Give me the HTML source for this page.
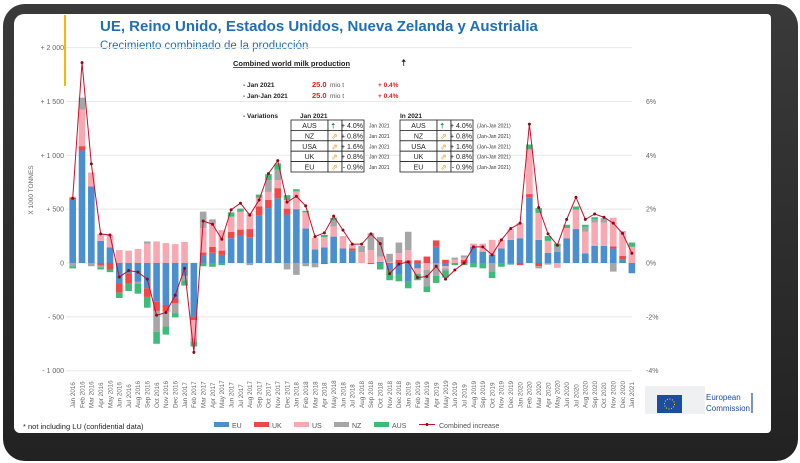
<!DOCTYPE html>
<html><head><meta charset="utf-8">
<style>
body{margin:0;width:800px;height:463px;overflow:hidden;background:#fff;font-family:"Liberation Sans",sans-serif;}
#frame{position:absolute;left:3px;top:4px;width:795px;height:457px;border-radius:22px;background:linear-gradient(#3a3a3a,#222);}
#slide{position:absolute;left:14px;top:14px;width:757px;height:419px;background:#fff;border-radius:10px 4px 4px 6px;}
</style></head><body>
<div id="frame"></div>
<div id="slide"></div>
<svg id="chart" width="800" height="463" style="position:absolute;left:0;top:0">
<line x1="65" y1="15" x2="65" y2="86" stroke="#f5b800" stroke-width="2"/>
<text x="100" y="31" font-size="15" font-weight="bold" fill="#1f6fb8">UE, Reino Unido, Estados Unidos, Nueva Zelanda y Austrialia</text>
<text x="100" y="49" font-size="11.5" fill="#1f6fb8">Crecimiento combinado de la producción</text>
<text transform="translate(33,190) rotate(-90)" font-size="6.5" fill="#666" text-anchor="middle">X 1000 TONNES</text>
<g id="grid"></g><g id="bars"></g><g id="line"></g><g id="xlabels"></g>
<g font-size="7" fill="#222">
<text x="233" y="66" font-weight="bold" text-decoration="underline" font-size="7.5">Combined world milk production</text>
<text x="401" y="66" font-size="10">🠅</text>
<text x="243" y="87" font-weight="bold" font-size="6.5">- Jan 2021</text>
<text x="243" y="98" font-weight="bold" font-size="6.5">- Jan-Jan 2021</text>
<text x="312" y="87" fill="#e02020" font-weight="bold" font-size="7.5">25.0</text><text x="330" y="87" font-size="6.5" fill="#555">mio t</text>
<text x="312" y="98" fill="#e02020" font-weight="bold" font-size="7.5">25.0</text><text x="330" y="98" font-size="6.5" fill="#555">mio t</text>
<text x="378" y="87" fill="#e02020" font-weight="bold" font-size="6.5">+ 0.4%</text>
<text x="378" y="98" fill="#e02020" font-weight="bold" font-size="6.5">+ 0.4%</text>
<text x="243" y="118" font-weight="bold" font-size="6.5">- Variations</text>
<text x="300" y="118" font-weight="bold" font-size="6.5">Jan 2021</text>
<text x="400" y="118" font-weight="bold" font-size="6.5">In 2021</text>
</g>
<g id="tables"></g>
<g id="legend"></g>
<text x="23" y="429" font-size="7.5" fill="#222">* not including LU (confidential data)</text>
<g>
<rect x="645" y="386" width="60" height="28" fill="#eef0f2"/>
<rect x="657" y="395" width="25" height="18" fill="#1c4ea0"/>
<circle cx="669.5" cy="404" r="5" fill="none" stroke="#ffd200" stroke-width="1" stroke-dasharray="1 1.6"/>
<text x="706" y="400" font-size="8" fill="#1c4ea0">European</text>
<text x="706" y="411" font-size="8" fill="#1c4ea0">Commission</text>
<line x1="752" y1="393" x2="752" y2="413" stroke="#1c4ea0" stroke-width="1.2"/>
</g>
</svg>
<script>
const months=["Jan","Feb","Mar","Apr","May","Jun","Jul","Aug","Sep","Oct","Nov","Dec"];
const categories=[];for(let y=2016;y<=2021;y++)for(const m of months){if(y===2021&&m!=="Jan")break;categories.push(m+" "+y);}
const euValues=[586,1045,710,205,145,-190,-95,-175,-235,-360,-390,-330,-120,-500,75,95,75,230,260,240,445,510,600,450,500,320,125,145,245,135,115,0,-10,10,-65,-110,-175,-50,0,150,-30,0,0,150,105,75,135,215,230,610,215,95,105,230,315,90,160,160,135,30,-95];
const ukValues=[20,40,0,-25,-60,-85,-95,0,-80,-85,-60,-45,0,-30,22,55,40,60,50,75,80,75,95,55,0,0,0,-10,0,0,20,0,0,0,0,30,25,25,60,60,30,0,30,0,0,0,0,0,-20,30,-30,0,0,0,0,0,0,0,20,35,0];
const usValues=[10,340,130,65,115,120,115,130,180,200,185,175,195,-170,225,215,190,140,165,150,80,75,75,80,165,150,110,95,95,115,40,100,120,50,10,60,95,-50,-65,0,-20,30,20,30,75,140,80,100,140,415,250,110,-45,95,180,200,215,215,265,220,150];
const nzValues=[-30,110,-30,-15,0,0,0,-20,20,-195,-140,-90,-40,-30,155,40,0,0,0,-20,0,110,95,-60,-110,-30,-40,0,55,0,0,60,155,180,75,100,170,0,-150,-120,-20,20,20,0,0,-80,0,0,0,0,-20,-15,45,0,0,45,30,40,-80,10,0];
const ausValues=[-20,0,0,-20,-25,-50,-70,-90,-100,-110,-75,-40,-50,-45,-30,-35,-20,40,30,0,30,55,60,45,20,15,0,20,25,0,0,0,0,-60,-95,-60,-60,-60,-55,-65,-65,-20,-20,-40,-50,-60,-35,-15,0,45,45,45,30,30,30,20,20,0,0,0,40];
const combinedValues=[600,1860,920,270,260,-130,-70,-85,-150,-485,-460,-300,-50,-830,390,360,220,495,555,445,585,830,950,565,620,530,245,280,435,305,175,175,270,180,-100,-10,10,-135,-125,-30,-150,-65,0,150,150,75,215,320,370,1290,515,270,165,405,610,405,455,425,370,275,90];
const leftTicks=[2000,1500,1000,500,0,-500,-1000];
const leftTickLabels=["+ 2 000","+ 1 500","+ 1 000","+ 500","0","- 500","- 1 000"];
const rightTickLabels=["6%","4%","2%","0%","-2%","-4%"];
const rightTicks=[6,4,2,0,-2,-4];
const series=[{name:"EU",vals:euValues,color:"#4a90d0"},{name:"UK",vals:ukValues,color:"#f04848"},{name:"US",vals:usValues,color:"#f7a8b0"},{name:"NZ",vals:nzValues,color:"#a6a6a6"},{name:"AUS",vals:ausValues,color:"#3cbc78"}];
const NS="http://www.w3.org/2000/svg";
function el(t,a,p){const e=document.createElementNS(NS,t);for(const k in a)e.setAttribute(k,a[k]);p.appendChild(e);return e;}
const y0=263, pxPerUnit=107.7/1000;
function yScale(v){return y0-v*pxPerUnit;}
function yPct(p){return y0-p*26.9;}
function xScale(i){return 72.7+i*9.32;}
const grid=document.getElementById("grid");
leftTicks.forEach((t,i)=>{
  const g=el("line",{x1:66,x2:632,y1:yScale(t),y2:yScale(t),stroke:"#e8e8e8","stroke-width":1},grid);
  
  
  const tx=el("text",{x:64,y:yScale(t)+2.5,"font-size":7,fill:"#666","text-anchor":"end"},grid);
  tx.textContent=leftTickLabels[i];
  
  
});
rightTicks.forEach((t,i)=>{
  const tx=el("text",{x:646,y:yPct(t)+2.5,"font-size":7,fill:"#666"},grid);
  tx.textContent=rightTickLabels[i];
  
  
});
const bars=document.getElementById("bars");
categories.forEach((c,i)=>{
  let pos=0,neg=0;const x=xScale(i)-3.3;
  series.forEach(s=>{
    const v=s.vals[i];if(!v)return;
    let a,b;
    if(v>0){a=pos;b=pos+v;pos=b;}else{a=neg;b=neg+v;neg=b;}
    const r=el("rect",{x:x,width:6.6,y:Math.min(yScale(a),yScale(b)),height:Math.abs(yScale(a)-yScale(b)),fill:s.color},bars);
    
    
  });
  const t=el("text",{transform:`translate(${xScale(i)+2.3},408) rotate(-90)`,"font-size":6.3,fill:"#666"},document.getElementById("xlabels"));
  t.textContent=c;
  
  
});
const lg=document.getElementById("line");
const pts=combinedValues.map((v,i)=>xScale(i)+","+yScale(v)).join(" ");
const pl=el("polyline",{points:pts,fill:"none",stroke:"#c8102e","stroke-width":1},lg);


combinedValues.forEach((v,i)=>{
  const c=el("circle",{cx:xScale(i),cy:yScale(v),r:1.5,fill:"#8b0a1a"},lg);
  
  
});
const tRows=[["AUS","+ 4.0%","up"],["NZ","+ 0.8%","s"],["USA","+ 1.6%","s"],["UK","+ 0.8%","s"],["EU","- 0.9%","s"]];
const tg=document.getElementById("tables");
[[291,"Jan 2021",369],[400,"(Jan-Jan 2021)",477]].forEach(([tx,note,nx])=>{
  tRows.forEach((r,j)=>{
    const y=120+j*10.4;
    el("rect",{x:tx,y:y,width:37,height:10.4,fill:"#fff",stroke:"#222","stroke-width":0.8},tg);
    el("rect",{x:tx+37,y:y,width:14,height:10.4,fill:"#fff",stroke:"#222","stroke-width":0.8},tg);
    el("rect",{x:tx+51,y:y,width:22,height:10.4,fill:"#fff",stroke:"#222","stroke-width":0.8},tg);
    const a=el("text",{x:tx+18.5,y:y+8,"font-size":7,"text-anchor":"middle",fill:"#222"},tg);a.textContent=r[0];
    const ic=el("text",{x:tx+40,y:y+8.5,"font-size":8,fill:r[2]==="up"?"#2e8b57":"#e0a030"},tg);ic.textContent=r[2]==="up"?"🠅":"⇗";
    const b=el("text",{x:tx+72,y:y+8,"font-size":7,"text-anchor":"end",fill:"#222"},tg);b.textContent=r[1];
    const n=el("text",{x:nx,y:y+7.5,"font-size":5,fill:"#333"},tg);n.textContent=note;
  });
});


const leg=document.getElementById("legend");
let lx=214;
series.forEach(s=>{
  const g=el("g",{},leg);
  
  
  el("rect",{x:lx,y:422,width:15,height:5,fill:s.color},g);
  const t=el("text",{x:lx+18,y:428,"font-size":7,fill:"#555"},g);t.textContent=s.name;
  lx+=18+(s.name.length*5)+12;
});
const g2=el("g",{},leg);


el("line",{x1:lx,x2:lx+16,y1:424.5,y2:424.5,stroke:"#c8102e","stroke-width":1},g2);
el("circle",{cx:lx+8,cy:424.5,r:1.5,fill:"#8b0a1a"},g2);
const tt=el("text",{x:lx+20,y:428,"font-size":7,fill:"#555"},g2);tt.textContent="Combined increase";
</script>
</body></html>
